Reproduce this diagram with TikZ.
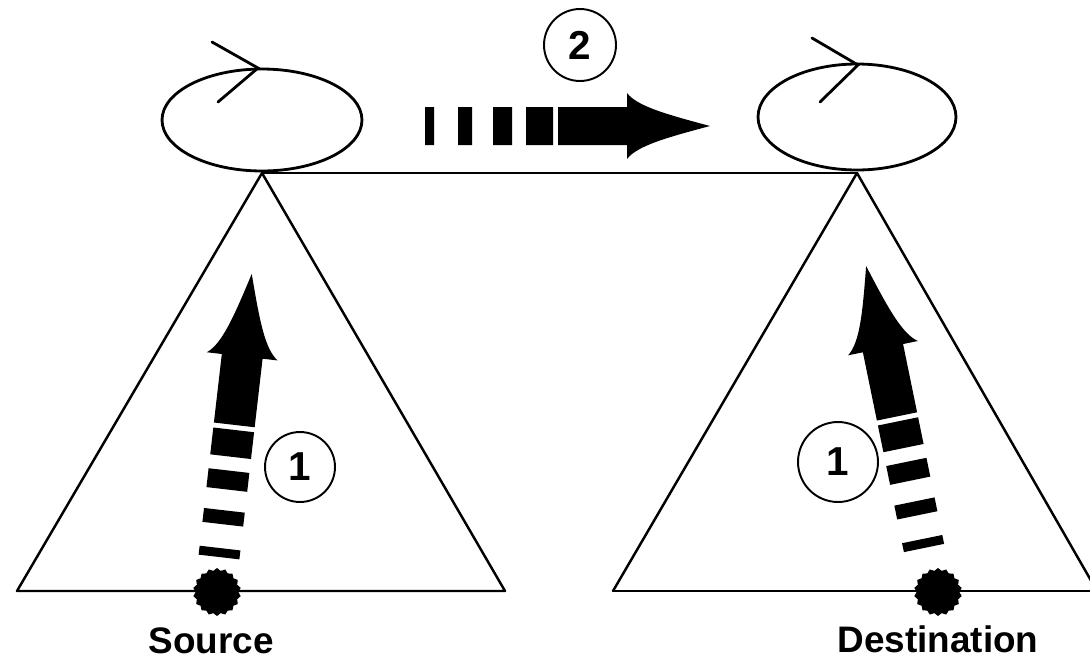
\documentclass[tikz,border=0pt]{standalone}
\usepackage{fontspec}
\setmainfont{Liberation Sans}
\usetikzlibrary{shapes.geometric}

\tikzset{
  treeline/.style={line width=1.4pt, line cap=round, line join=round},
  ringshape/.style={ellipse, draw, line width=1.6pt, inner sep=0pt,
    minimum width=4cm, minimum height=2.04cm},
  ringtip/.style={line width=1.6pt, line cap=round, line join=miter},
  stepnum/.style={circle, draw, line width=1.1pt, inner sep=0pt,
    font=\fontsize{23}{23}\selectfont\bfseries},
  site/.style={star, star points=18, star point ratio=1.12, fill=black,
    inner sep=0pt, minimum size=0.96cm},
  sitelabel/.style={anchor=base, font=\fontsize{21}{21}\selectfont\bfseries},
}

% Dashed block arrow along local +x, tail at the origin, tip at x=285
\newcommand\flowarrow{%
  \fill (0,-19) rectangle (9,19)
        (33,-19) rectangle (47,19)
        (68,-19) rectangle (87,19)
        (101,-19) rectangle (128,19);
  \fill (133,-19) -- (202,-19) -- (202,-33)
        .. controls (212,-20) and (240,-12) .. (285,0)
        .. controls (240,12) and (212,20) .. (202,33)
        -- (202,19) -- (133,19) -- cycle;
}

\begin{document}
\begin{tikzpicture}[x=0.02cm, y=-0.02cm]
\clip (0,0) rectangle (1090,660);
\fill[white] (0,0) rectangle (1090,660);

% roots of the two trees
\coordinate (topL) at (262,173);
\coordinate (topR) at (857,173);

% trees
\draw[treeline] (17,591) -- (topL) -- (505,591) -- cycle;
\draw[treeline] (613,591) -- (topR) -- (1097,591);
\draw[treeline] (613,591) -- (1095,591);

% link between the roots
\draw[treeline] (topL) -- (topR);

% rings above the roots
\node[ringshape] (ringL) at (262,120) {};
\node[ringshape, minimum height=2.12cm, minimum width=3.96cm] (ringR) at (857,117) {};
\draw[ringtip] (212,42) -- (258,68) -- (218,102);
\draw[ringtip] (812,38) -- (858,65) -- (820,102);

% step numbers
\node[stepnum, minimum size=1.44cm] (n2) at (580,45) {2};
\node[stepnum, minimum size=1.4cm] (n1L) at (300,467) {1};
\node[stepnum, minimum size=1.6cm] (n1R) at (838,462) {1};

% end hosts
\node[site] (src) at (217,592) {};
\node[site] (dst) at (938,592) {};
\node[sitelabel] (srclabel) at (211,653) {Source};
\node[sitelabel] (dstlabel) at (938,652) {Destination};

% flows
\begin{scope}[shift={(425,126)}] \flowarrow \end{scope}
\begin{scope}[shift={(219,557)}, rotate=83.4, yscale=1.08] \flowarrow \end{scope}
\begin{scope}[shift={(924,548)}, rotate=101.6, xscale=1.01, yscale=1.08] \flowarrow \end{scope}
\end{tikzpicture}
\end{document}
